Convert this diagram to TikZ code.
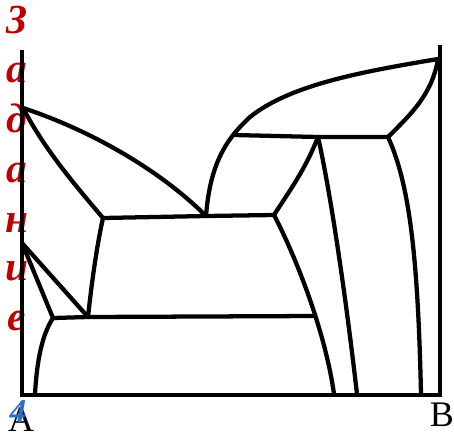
\documentclass[tikz,border=0pt]{standalone}
\usepackage{fontspec}
\setmainfont{Liberation Serif}
\definecolor{tred}{RGB}{192,0,0}
\definecolor{tblue}{RGB}{40,110,200}
\begin{document}
\begin{tikzpicture}[x=0.75pt,y=-0.75pt,
  ln/.style={line width=3.2pt,line join=round,line cap=round},
  ax/.style={line width=3.4pt},
  lett/.style={anchor=base,text=tred,font=\fontsize{31}{31}\selectfont\bfseries\itshape,inner sep=0pt},
  lab/.style={anchor=base,font=\fontsize{27}{27}\selectfont,inner sep=0pt}]
\useasboundingbox (0,0) rectangle (454,437);
% title letters
\node[lett] (l1) at (17,33) {З};
\node[lett] (l2) at (17,82) {а};
\node[lett] (l3) at (17,132) {д};
\node[lett] (l4) at (17,182) {а};
\node[lett] (l5) at (17,232) {н};
\node[lett] (l6) at (17,280) {и};
\node[lett] (l7) at (17,330) {е};
\node[lab] (la) at (21,431) {A};
\node[anchor=base,text=tblue,font=\fontsize{25}{25}\selectfont\bfseries\itshape,inner sep=0pt] (n4) at (18,422) {4};
\node[lab] (lb) at (442,426) {B};
% coordinates
\coordinate (A0) at (22,50);
\coordinate (O) at (22,395);
\coordinate (B0) at (440,395);
\coordinate (B1) at (440,45);
\coordinate (P1) at (23,108);
\coordinate (P2) at (22,243);
\coordinate (Q1) at (103,218);
\coordinate (Q2) at (206,216);
\coordinate (Q3) at (274,215);
\coordinate (R1) at (53,318);
\coordinate (R2) at (88,317);
\coordinate (R3) at (314,316);
\coordinate (S1) at (234,135);
\coordinate (S2) at (318,137);
\coordinate (S3) at (388,137);
\coordinate (T) at (438,59);
% axes
\draw[ax,line join=miter] (A0) -- (O) -- (B0) -- (B1);
% curves
\draw[ln] (P1) .. controls (90,130) and (160,170) .. (Q2);
\draw[ln] (P1) .. controls (45,150) and (75,185) .. (Q1);
\draw[ln] (Q1) -- (Q2) -- (Q3);
\draw[ln] (Q1) .. controls (97,245) and (92,280) .. (R2);
\draw[ln] (P2) -- (R1);
\draw[ln] (P2) -- (R2);
\draw[ln] (R1) -- (R2) -- (R3);
\draw[ln] (R1) .. controls (42,335) and (37,360) .. (35,394);
\draw[ln] (Q3) .. controls (295,255) and (325,330) .. (334,394);
\draw[ln] (Q2) .. controls (210,165) and (225,140) .. (250,117) .. controls (290,85) and (360,72) .. (T);
\draw[ln] (S1) -- (S2) -- (S3);
\draw[ln] (Q3) .. controls (290,190) and (305,170) .. (S2);
\draw[ln] (T) .. controls (432,95) and (410,115) .. (S3);
\draw[ln] (S2) .. controls (330,190) and (345,290) .. (357,394);
\draw[ln] (S3) .. controls (410,185) and (418,260) .. (421,394);
\end{tikzpicture}
\end{document}
